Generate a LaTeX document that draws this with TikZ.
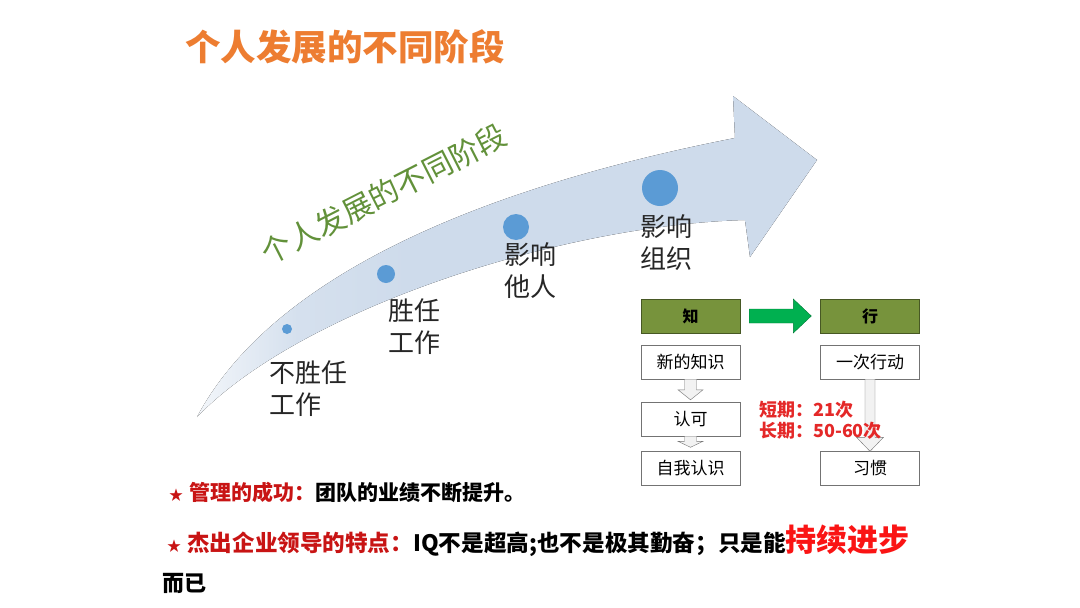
\documentclass[tikz,border=0pt]{standalone}
\usepackage{fontspec}
\setmainfont{Noto Sans CJK SC}
\usetikzlibrary{calc}

\definecolor{titleorange}{RGB}{237,125,49}
\definecolor{stagegreen}{RGB}{98,145,58}
\definecolor{arrowblue}{RGB}{206,219,235}
\colorlet{arrowpale}{arrowblue!25}
\colorlet{arrowmid}{arrowblue!85}
\definecolor{dotblue}{RGB}{91,155,213}
\definecolor{boxgreen}{RGB}{119,147,60}
\definecolor{arrowgreen}{RGB}{0,176,80}
\definecolor{labelred}{RGB}{228,40,40}
\definecolor{darkred}{RGB}{200,20,20}
\definecolor{brightred}{RGB}{250,20,20}

\pgfdeclarehorizontalshading{tailfade}{100bp}{color(0bp)=(arrowpale); color(25bp)=(arrowpale); color(33bp)=(arrowmid); color(42bp)=(arrowblue); color(100bp)=(arrowblue)}

\begin{document}
\begin{tikzpicture}[x=1pt,y=-1pt,
  stagelabel/.style={anchor=west,align=left,inner sep=0pt,text=black!85,font=\fontsize{26}{32}\selectfont},
  stagedot/.style={circle,fill=dotblue,inner sep=0pt},
  headbox/.style={draw=boxgreen!60!black,fill=boxgreen,minimum width=99pt,minimum height=34pt,inner sep=0pt,font=\fontsize{16}{16}\selectfont\bfseries},
  stepbox/.style={draw=black!55,fill=white,minimum width=99pt,minimum height=34pt,inner sep=0pt,font=\fontsize{17}{17}\selectfont},
  hollow/.style={draw=black!55,fill=black!5}]
  \useasboundingbox (0,0) rectangle (1080,608);

  % Title
  \node[text=titleorange,font=\fontsize{35.5}{36}\selectfont\bfseries] (title) at (345,47) {个人发展的不同阶段};

  % Big curved arrow
  \fill[shading=tailfade] (197,417) .. controls (270,280) and (470,190) .. (735,138)
    -- (733,96) -- (817,160) -- (750,257) -- (745,220)
    .. controls (560,225) and (300,310) .. cycle;

  \node[rotate=27,text=stagegreen,font=\fontsize{30}{30}\selectfont] (growth) at (384,194) {个人发展的不同阶段};

  % Stages along the arrow
  \node[stagedot,minimum size=10pt] (d1) at (287,329) {};
  \node[stagedot,minimum size=18pt] (d2) at (386,274) {};
  \node[stagedot,minimum size=26pt] (d3) at (516,227) {};
  \node[stagedot,minimum size=36pt] (d4) at (660,188) {};

  \node[stagelabel] (s1) at (269,389) {不胜任\\工作};
  \node[stagelabel] (s2) at (388,327) {胜任\\工作};
  \node[stagelabel] (s3) at (504,271) {影响\\他人};
  \node[stagelabel] (s4) at (640,243) {影响\\组织};

  % Knowing and doing
  \node[headbox] (zhi) at (690.5,316) {知};
  \node[headbox] (xing) at (870,316) {行};
  \node[stepbox] (xz) at (690.5,362) {新的知识};
  \node[stepbox] (rk) at (690.5,419) {认可};
  \node[stepbox] (zw) at (690.5,468.5) {自我认识};
  \node[stepbox] (yc) at (870,362) {一次行动};
  \node[stepbox] (xg) at (870,468.5) {习惯};

  \draw[draw=arrowgreen!70!black,fill=arrowgreen] ($(zhi.east)+(9,-7)$) -- ($(xing.west)+(-27,-7)$)
    -- ($(xing.west)+(-27,-17)$) -- ($(xing.west)+(-9,0)$) -- ($(xing.west)+(-27,17)$)
    -- ($(xing.west)+(-27,7)$) -- ($(zhi.east)+(9,7)$) -- cycle;

  \foreach \a/\b/\s/\w/\h/\g in {xz/rk/6/12.5/10/2, rk/zw/6/12.5/6/4, yc/xg/5/13.5/14/0} {
    \coordinate (tip) at ($(\b.north)+(0,-\g)$);
    \draw[hollow] ($(\a.south)+(-\s,0)$) -- ($(tip)+(-\s,-\h)$) -- ($(tip)+(-\w,-\h)$) -- (tip)
      -- ($(tip)+(\w,-\h)$) -- ($(tip)+(\s,-\h)$) -- ($(\a.south)+(\s,0)$) -- cycle;
  }

  \node[anchor=west,align=left,inner sep=0pt,text=labelred,font=\fontsize{18}{21}\selectfont\bfseries] (times) at (759,420) {短期：21次\\长期：50-60次};

  % Notes at the bottom
  \node[anchor=west,inner sep=0pt,font=\fontsize{21}{21}\selectfont\bfseries] (success) at (169,492)
    {\textcolor{darkred}{{\fontsize{14}{14}\selectfont ★}\hspace{6pt}管理的成功：}团队的业绩不断提升。};
  \node[anchor=west,inner sep=0pt,font=\fontsize{22.6}{23}\selectfont\bfseries] (trait) at (167,541)
    {\textcolor{darkred}{{\fontsize{14}{14}\selectfont ★}\hspace{6pt}杰出企业领导的特点：}IQ不是超高;也不是极其勤奋；只是能\textcolor{brightred}{\fontsize{31}{31}\selectfont 持续进步}};
  \node[anchor=west,inner sep=0pt,font=\fontsize{22}{22}\selectfont\bfseries] (only) at (162,583) {而已};
\end{tikzpicture}
\end{document}
